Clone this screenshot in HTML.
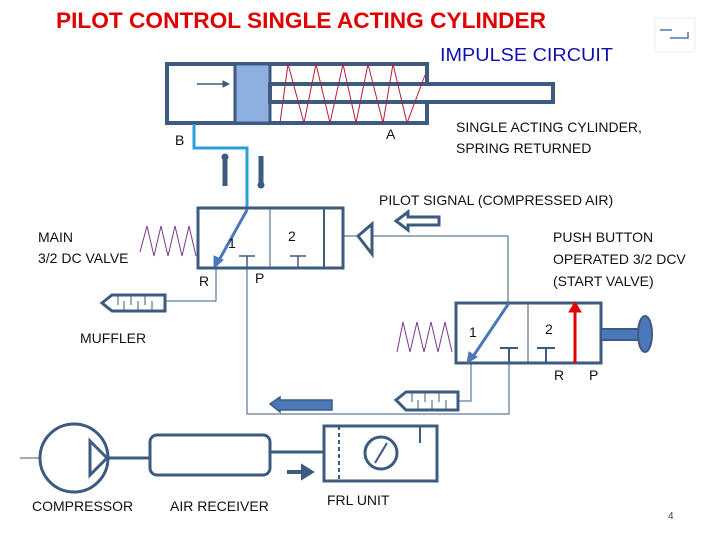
<!DOCTYPE html>
<html><head><meta charset="utf-8"><style>
html,body{margin:0;padding:0;background:#fff;}
svg{display:block;font-family:"Liberation Sans",sans-serif;}
</style></head><body>
<svg width="720" height="540" viewBox="0 0 720 540" xmlns="http://www.w3.org/2000/svg">
<text x="56" y="28" font-size="22" font-weight="bold" fill="#e00000" textLength="490" lengthAdjust="spacingAndGlyphs">PILOT CONTROL SINGLE ACTING CYLINDER</text>
<text x="440" y="61" font-size="18" fill="#1010b0" textLength="173" lengthAdjust="spacingAndGlyphs">IMPULSE CIRCUIT</text>
<rect x="655" y="18" width="40" height="34" fill="#fff" stroke="#ddd" stroke-width="0.5"/>
<path d="M660 30 h12 M670 38 h18 v-6" stroke="#4a7ab0" stroke-width="1.5" fill="none"/>

<g stroke="#3d5a80" fill="none">
<!-- cylinder -->
<rect x="167" y="64" width="260" height="59" stroke-width="4" fill="#fff"/>
<rect x="235" y="64" width="35" height="59" fill="#8eb0e0" stroke-width="3"/>
<rect x="270" y="84" width="283" height="18" stroke-width="4" fill="#fff"/>
<polyline points="280,123 288,64 304,123 316,64 330,123 343,64 356,123 368,64 383,123 393,64 407,123 425,75" stroke="#b0203a" stroke-width="1"/>
<line x1="197" y1="84" x2="226" y2="84" stroke-width="1.5"/>
<path d="M223 81 L229 84 L223 87 Z" fill="#3d5a80"/>
<!-- blue line B -->
<polyline points="194,124 194,148 247,148 247,210" stroke="#29a0d8" stroke-width="3"/>
<line x1="247" y1="210" x2="218" y2="262" stroke="#4a78b8" stroke-width="3"/>
<path d="M214 268 L214 256 L223 260 Z" fill="#4a78b8" stroke="#4a78b8"/>
<!-- up/down arrows -->
<line x1="225" y1="158" x2="225" y2="186" stroke-width="5"/>
<circle cx="225" cy="157" r="3" fill="#3d5a80"/>
<line x1="261" y1="156" x2="261" y2="184" stroke-width="5"/>
<circle cx="261" cy="185" r="3" fill="#3d5a80"/>
<!-- main valve -->
<rect x="198" y="208" width="145" height="60" stroke-width="3" fill="none"/>
<line x1="270" y1="208" x2="270" y2="268" stroke-width="1"/>
<line x1="324" y1="208" x2="324" y2="268" stroke-width="2"/>
<path d="M239 256 h16 M247 256 v12 M290 256 h16 M298 256 v12" stroke-width="1.5"/>
<polyline points="140,252 147,226 154,256 161,226 168,256 175,226 182,256 189,226 196,256" stroke="#7a3a8a" stroke-width="1"/>
<!-- pilot -->
<line x1="343" y1="236" x2="508" y2="236" stroke-width="1"/>
<path d="M358 236 L372 224 L372 254 Z" stroke-width="3" fill="#fff"/>
<path d="M396 221 L408 212 L408 217 L439 217 L439 225 L408 225 L408 230 Z" stroke-width="3" fill="#fff"/>
<line x1="508" y1="236" x2="508" y2="303" stroke-width="1"/>
<!-- R line / muffler 1 -->
<polyline points="216,268 216,301 165,301" stroke-width="1"/>
<path d="M102 303 L112 295 L165 295 L165 311 L112 311 Z" stroke-width="3" fill="#fff"/>
<path d="M118 295 v10 M124 301 v10 M131 295 v10 M138 301 v10 M145 295 v10 M152 301 v10" stroke-width="1"/>
<!-- P line -->
<polyline points="247,268 247,414 509,414 509,363" stroke-width="1"/>
<!-- start valve -->
<rect x="456" y="303" width="145" height="60" stroke-width="3"/>
<line x1="528" y1="303" x2="528" y2="363" stroke-width="1"/>
<line x1="509" y1="303" x2="472" y2="358" stroke="#4a78b8" stroke-width="3"/>
<path d="M467 363 L469 352 L477 357 Z" fill="#4a78b8" stroke="#4a78b8"/>
<path d="M500 348 h18 M509 348 v15 M537 348 h18 M546 348 v15" stroke-width="2"/>
<line x1="575" y1="363" x2="575" y2="310" stroke="#e00000" stroke-width="3"/>
<path d="M569 312 L575 302 L581 312 Z" fill="#e00000" stroke="#e00000"/>
<rect x="601" y="329" width="44" height="11" fill="#4a78b8" stroke-width="2"/>
<ellipse cx="645" cy="334" rx="7" ry="18" fill="#4a78b8" stroke-width="2"/>
<polyline points="397,352 403,322 410,352 417,322 424,352 431,322 438,352 445,322 452,352" stroke="#7a3a8a" stroke-width="1"/>
<polyline points="471,363 471,401 458,401" stroke-width="1"/>
<path d="M396 400 L406 392 L458 392 L458 410 L406 410 Z" stroke-width="3" fill="#fff"/>
<path d="M412 392 v10 M418 400 v10 M425 392 v10 M432 400 v10 M439 392 v10 M446 400 v10" stroke-width="1"/>
<!-- filled arrow -->
<path d="M270 404 L280 397 L280 400 L332 400 L332 410 L280 410 L280 412 Z" fill="#4a78b8" stroke="#3d5a80" stroke-width="1.5"/>
<!-- bottom -->
<line x1="20" y1="458" x2="40" y2="458" stroke-width="1"/>
<circle cx="74" cy="458" r="34" stroke-width="3" fill="#fff"/>
<path d="M90 441 L107 458 L90 475 Z" stroke-width="3"/>
<line x1="108" y1="458" x2="150" y2="458" stroke-width="3"/>
<rect x="150" y="435" width="120" height="40" rx="7" stroke-width="3"/>
<line x1="270" y1="452" x2="324" y2="452" stroke-width="3"/>
<path d="M287 472 h18 M303 467 L311 472 L303 477 Z" stroke-width="4" fill="#3d5a80"/>
<rect x="324" y="426" width="113" height="55" stroke-width="3"/>
<line x1="339" y1="426" x2="339" y2="481" stroke-width="2" stroke-dasharray="4,3"/>
<circle cx="381" cy="453" r="16" stroke-width="3"/>
<line x1="375" y1="463" x2="387" y2="443" stroke-width="2"/>
<line x1="420" y1="426" x2="420" y2="443" stroke-width="2"/>
</g>

<g font-size="14" fill="#111">
<text x="175" y="145">B</text>
<text x="386" y="139">A</text>
<text x="456" y="132">SINGLE ACTING CYLINDER,</text>
<text x="456" y="153">SPRING RETURNED</text>
<text x="379" y="205">PILOT SIGNAL (COMPRESSED AIR)</text>
<text x="38" y="242">MAIN</text>
<text x="38" y="263">3/2 DC VALVE</text>
<text x="228" y="248">1</text>
<text x="288" y="241">2</text>
<text x="199" y="286">R</text>
<text x="255" y="283">P</text>
<text x="553" y="242">PUSH BUTTON</text>
<text x="553" y="264">OPERATED 3/2 DCV</text>
<text x="553" y="286">(START VALVE)</text>
<text x="80" y="343">MUFFLER</text>
<text x="469" y="337">1</text>
<text x="545" y="334">2</text>
<text x="554" y="380">R</text>
<text x="589" y="380">P</text>
<text x="32" y="511">COMPRESSOR</text>
<text x="170" y="511">AIR RECEIVER</text>
<text x="327" y="505">FRL UNIT</text>
<text x="668" y="519" font-size="10" fill="#444">4</text>
</g>
</svg>
</body></html>
